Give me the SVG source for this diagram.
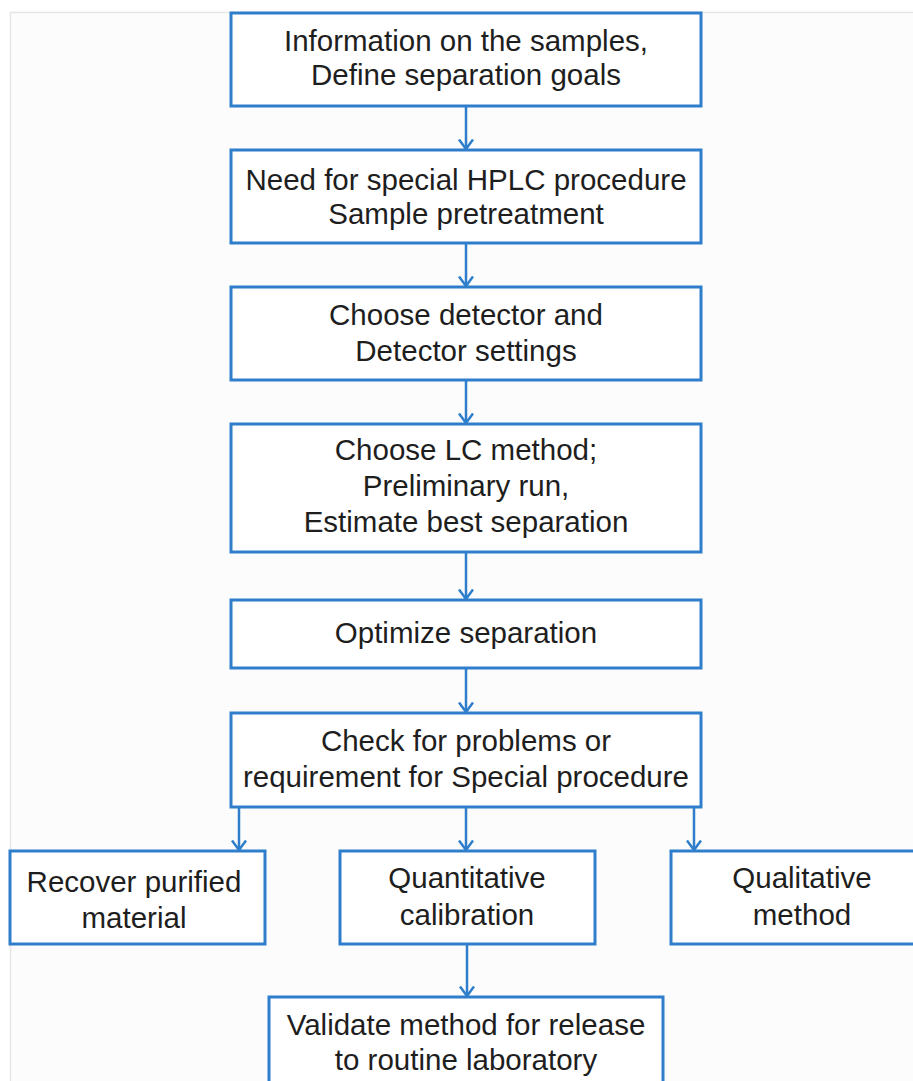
<svg xmlns="http://www.w3.org/2000/svg" width="913" height="1081" viewBox="0 0 913 1081">
<defs>
<marker id="arr" viewBox="0 0 12 16" refX="10.5" refY="8" markerWidth="12" markerHeight="16" markerUnits="userSpaceOnUse" orient="auto">
<path d="M1,1 L10.5,8 L1,15" fill="none" stroke="#2e7ecb" stroke-width="2.5"/>
</marker>
</defs>
<style>
.box{fill:#ffffff;stroke:#2e7ecb;stroke-width:3}
.t{font-family:"Liberation Sans",Arial,sans-serif;font-size:29.5px;fill:#1e1e1e;text-anchor:middle}
.c{fill:none;stroke:#2e7ecb;stroke-width:2.5}
</style>
<rect x="0" y="0" width="913" height="1081" fill="#ffffff"/>
<rect x="10" y="12" width="903" height="1069" fill="#fcfcfc"/>
<line x1="10" y1="12.5" x2="913" y2="12.5" stroke="#e6e6e6" stroke-width="1.5"/>
<line x1="10.5" y1="12" x2="10.5" y2="1081" stroke="#e6e6e6" stroke-width="1.5"/>
<g id="connectors">
<line class="c" x1="466" y1="106" x2="466" y2="149" marker-end="url(#arr)"/>
<line class="c" x1="466" y1="243" x2="466" y2="286" marker-end="url(#arr)"/>
<line class="c" x1="466" y1="380" x2="466" y2="423" marker-end="url(#arr)"/>
<line class="c" x1="466" y1="552" x2="466" y2="599" marker-end="url(#arr)"/>
<line class="c" x1="466" y1="668" x2="466" y2="712" marker-end="url(#arr)"/>
<line class="c" x1="239" y1="807" x2="239" y2="850" marker-end="url(#arr)"/>
<line class="c" x1="466" y1="807" x2="466" y2="850" marker-end="url(#arr)"/>
<line class="c" x1="694" y1="807" x2="694" y2="850" marker-end="url(#arr)"/>
<line class="c" x1="467" y1="944" x2="467" y2="996" marker-end="url(#arr)"/>
</g>
<g id="n1">
<rect class="box" x="231" y="13" width="470" height="93"/>
<text class="t" x="466" y="51">Information on the samples,</text>
<text class="t" x="466" y="85">Define separation goals</text>
</g>
<g id="n2">
<rect class="box" x="231" y="150" width="470" height="93"/>
<text class="t" x="466" y="190">Need for special HPLC procedure</text>
<text class="t" x="466" y="224">Sample pretreatment</text>
</g>
<g id="n3">
<rect class="box" x="231" y="287" width="470" height="93"/>
<text class="t" x="466" y="325">Choose detector and</text>
<text class="t" x="466" y="361">Detector settings</text>
</g>
<g id="n4">
<rect class="box" x="231" y="424" width="470" height="128"/>
<text class="t" x="466" y="460">Choose LC method;</text>
<text class="t" x="466" y="496">Preliminary run,</text>
<text class="t" x="466" y="532">Estimate best separation</text>
</g>
<g id="n5">
<rect class="box" x="231" y="600" width="470" height="68"/>
<text class="t" x="466" y="643">Optimize separation</text>
</g>
<g id="n6">
<rect class="box" x="231" y="713" width="470" height="94"/>
<text class="t" x="466" y="751">Check for problems or</text>
<text class="t" x="466" y="787">requirement for Special procedure</text>
</g>
<g id="n7">
<rect class="box" x="10" y="851" width="255" height="93"/>
<text class="t" x="134" y="892">Recover purified</text>
<text class="t" x="134" y="928">material</text>
</g>
<g id="n8">
<rect class="box" x="340" y="851" width="255" height="93"/>
<text class="t" x="467" y="888">Quantitative</text>
<text class="t" x="467" y="925">calibration</text>
</g>
<g id="n9">
<rect class="box" x="671" y="851" width="262" height="93"/>
<text class="t" x="802" y="888">Qualitative</text>
<text class="t" x="802" y="925">method</text>
</g>
<g id="n10">
<rect class="box" x="269" y="997" width="394" height="100"/>
<text class="t" x="466" y="1035">Validate method for release</text>
<text class="t" x="466" y="1070">to routine laboratory</text>
</g>
</svg>
